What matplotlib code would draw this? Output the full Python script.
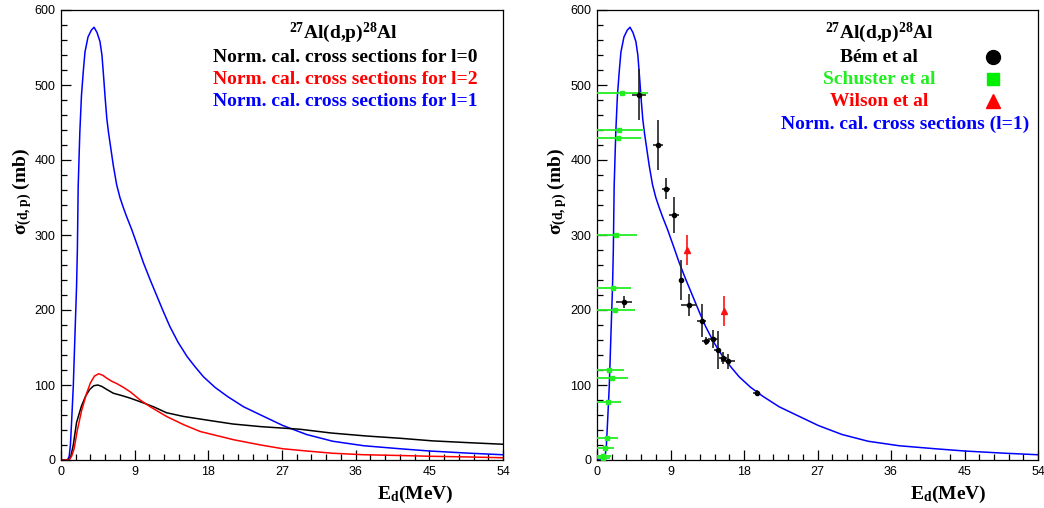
import numpy as np
import matplotlib.pyplot as plt
from matplotlib.ticker import MultipleLocator

plt.rcParams['mathtext.fontset'] = 'custom'
plt.rcParams['mathtext.rm'] = 'Liberation Serif:bold'
plt.rcParams['mathtext.it'] = 'Liberation Serif:bold'
plt.rcParams['mathtext.bf'] = 'Liberation Serif:bold'

# calculated curves
e_l1 = [0, 0.8, 1.0, 1.15, 1.3, 1.5, 1.7, 1.9, 2.0, 2.1, 2.3, 2.5, 2.73, 2.93, 3.3, 3.7, 4.04, 4.4,
        4.76, 5.0, 5.2, 5.4, 5.6, 5.8, 6.0, 6.4, 6.8, 7.2, 7.6, 8.0, 8.65, 9.4, 10.07, 10.9, 11.7,
        12.5, 13.3, 14.3, 15.4, 16.4, 17.4, 18.8, 20.3, 22.3, 24.4, 27.1, 30.0, 33.2, 37.0, 41.4,
        45.0, 50.0, 54.0]
s_l1 = [0, 0, 5, 20, 52, 98, 165, 231, 280, 365, 437, 486, 519, 544, 564, 573, 577, 570,
        558, 540, 512, 482, 455, 437, 422, 392, 367, 350, 337, 325, 307, 284, 263, 240, 219,
        198, 178, 157, 138, 124, 111, 97, 85, 71, 60, 46, 34, 25, 19, 15, 12, 9, 7]

e_l0 = [0, 0.9, 1.2, 1.5, 1.9, 2.5, 3.0, 3.5, 4.0, 4.5, 5.0, 5.6, 6.4, 7.4, 8.45, 10.1, 11.3,
        12.9, 15.0, 18.2, 21.0, 24.4, 29.2, 33.0, 37.3, 41.4, 45.4, 50.0, 54.0]
s_l0 = [0, 0, 5, 20, 50, 72, 85, 94, 99, 100, 98, 94, 89, 86, 82.5, 76, 71,
        63, 58, 52.6, 48, 44.5, 41, 36, 32, 29, 25.5, 23, 21]

e_l2 = [0, 1.0, 1.3, 1.6, 2.0, 2.5, 3.1, 3.6, 4.1, 4.6, 5.1, 5.6, 6.2, 6.8, 7.6, 8.45, 9.67,
        10.9, 12.9, 15.0, 17.0, 21.1, 24.4, 27.1, 30.0, 33.2, 37.0, 41.4, 45.0, 50.0, 54.0]
s_l2 = [0, 0, 5, 15, 40, 65, 88, 103, 112, 115, 113, 109, 105, 102, 97, 91, 80,
        71, 58, 47, 38, 27, 20, 15, 12, 9, 7, 6, 5, 4, 3]

# experimental data
bem_e = [3.34, 5.14, 7.5, 8.4, 9.46, 10.28, 11.26, 12.8, 13.34, 14.24, 14.77, 15.46, 16.0, 19.55]
bem_s = [211, 487, 420, 362, 327, 240, 207, 186, 159, 162, 147, 136, 132, 90]
bem_de = [1.0, 0.85, 0.6, 0.5, 0.6, 0.3, 1.0, 0.6, 0.5, 0.6, 0.4, 0.5, 0.85, 0.4]
bem_ds = [8, 34, 33, 14, 24, 27, 15, 22, 5, 12, 25, 8, 10, 4]

sch_e = [0.7, 0.77, 0.98, 1.19, 1.38, 1.5, 1.8, 2.0, 2.2, 2.33, 2.53, 2.73, 3.0]
sch_s = [3, 6, 16, 30, 77, 120, 110, 230, 200, 300, 430, 440, 490]
sch_de = [0.9, 1.0, 1.1, 1.35, 1.55, 1.8, 2.0, 2.2, 2.4, 2.6, 2.8, 3.0, 3.2]

wil_e = [10.98, 15.54]
wil_s = [280, 199]
wil_ds = [20, 20]

xticks = [0, 9, 18, 27, 36, 45, 54]
yticks = [0, 100, 200, 300, 400, 500, 600]

W, H = 1044, 508
fig = plt.figure(figsize=(W / 100, H / 100), dpi=100)


def style(ax):
    ax.set_xlim(0, 54)
    ax.set_ylim(0, 600)
    ax.set_xticks(xticks)
    ax.set_yticks(yticks)
    ax.xaxis.set_minor_locator(MultipleLocator(1.8))
    ax.yaxis.set_minor_locator(MultipleLocator(20))
    ax.tick_params(which='both', direction='in', top=False, right=False,
                   labelsize=9, pad=4)
    ax.tick_params(which='major', length=7, width=0.9)
    ax.tick_params(which='minor', length=4, width=0.9)
    for lab in ax.get_xticklabels() + ax.get_yticklabels():
        lab.set_family('Liberation Sans')
    for sp in ax.spines.values():
        sp.set_linewidth(0.9)


def ftxt(px, py, s, **kw):
    fig.text(px / W, 1 - py / H, s, family='Liberation Serif', weight='bold',
             fontsize=14, va='center', **kw)


title = r'$^{27}$Al(d,p)$^{28}$Al'
ylab = r'$\sigma_{(d,p)}$ (mb)'
xlab = r'E$_{d}$(MeV)'

# left panel
ax1 = fig.add_axes([61 / W, 1 - 460 / H, 442 / W, 450 / H])
style(ax1)
ax1.plot(e_l1, s_l1, color='#0000ff', lw=1.1)
ax1.plot(e_l0, s_l0, color='black', lw=1.1)
ax1.plot(e_l2, s_l2, color='#ff0000', lw=1.1)

ftxt(343, 33, title, ha='center')
ftxt(213, 57, 'Norm. cal. cross sections for l=0', ha='left', color='black')
ftxt(213, 79, 'Norm. cal. cross sections for l=2', ha='left', color='#ff0000')
ftxt(213, 101, 'Norm. cal. cross sections for l=1', ha='left', color='#0000ff')
ftxt(22, 191, ylab, ha='center', rotation=90)
ftxt(415, 494, xlab, ha='center')

# right panel
ax2 = fig.add_axes([597 / W, 1 - 460 / H, 441 / W, 450 / H])
style(ax2)
ax2.plot(e_l1, s_l1, color='#0000ff', lw=1.1, zorder=2)
ax2.errorbar(sch_e, sch_s, xerr=sch_de, fmt='s', color='#22ee22', ms=3,
             elinewidth=1.3, capsize=0, zorder=3)
ax2.errorbar(wil_e, wil_s, yerr=wil_ds, fmt='^', color='#ff1010', ms=4,
             elinewidth=1.2, capsize=0, zorder=3)
ax2.errorbar(bem_e, bem_s, xerr=bem_de, yerr=bem_ds, fmt='o', color='black', ms=3,
             ecolor='#222222', elinewidth=1.2, capsize=0, zorder=4)

ftxt(879, 33, title, ha='center')
ftxt(879, 57, 'Bém et al', ha='center', color='black')
ftxt(879, 79, 'Schuster et al', ha='center', color='#22ee22')
ftxt(879, 101, 'Wilson et al', ha='center', color='#ff0000')
ftxt(905, 124, 'Norm. cal. cross sections (l=1)', ha='center', color='#0000ff')
fig.lines.append(plt.Line2D([993 / W], [1 - 57 / H], marker='o', ms=10, color='black',
                            transform=fig.transFigure))
fig.lines.append(plt.Line2D([993 / W], [1 - 79 / H], marker='s', ms=9, color='#00ee00',
                            transform=fig.transFigure))
fig.lines.append(plt.Line2D([993 / W], [1 - 101 / H], marker='^', ms=10, color='#ff0000',
                            transform=fig.transFigure))
ftxt(557, 191, ylab, ha='center', rotation=90)
ftxt(948, 494, xlab, ha='center')

fig.savefig('out.png', dpi=100)
